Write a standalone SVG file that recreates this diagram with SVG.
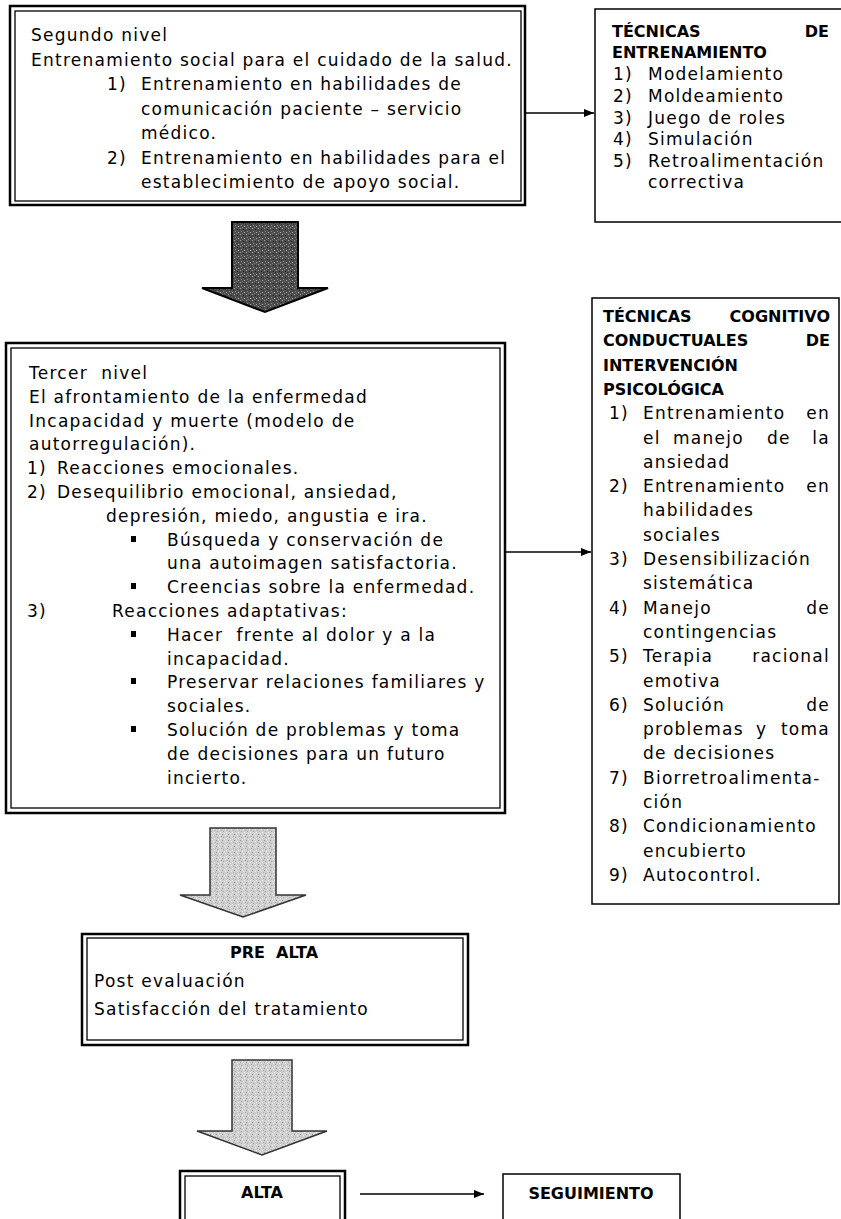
<svg xmlns="http://www.w3.org/2000/svg" width="841" height="1219" viewBox="0 0 841 1219">
  <style>
    .t { font-family: "DejaVu Sans", "Liberation Sans", sans-serif; font-size: 17px; letter-spacing: 1.25px; fill: #000; }
    .h { font-family: "DejaVu Sans", "Liberation Sans", sans-serif; font-size: 16px; font-weight: bold; fill: #000; }
    .c { text-anchor: middle; }
    .e { text-anchor: end; }
    .outer { fill: #fff; stroke: #000; stroke-width: 2.5; }
    .inner { fill: none; stroke: #000; stroke-width: 1.3; }
    .single { fill: #fff; stroke: #000; stroke-width: 1.5; }
    .link { stroke: #000; stroke-width: 1.5; fill: none; marker-end: url(#head); }
    .dark { fill: url(#grainDark); stroke: #000; stroke-width: 2; stroke-linejoin: miter; }
    .light { fill: url(#grainLight); stroke: #333; stroke-width: 1.5; stroke-linejoin: miter; }
  </style>
  <defs>
    <marker id="head" markerWidth="10" markerHeight="8" refX="10" refY="4" orient="auto" markerUnits="userSpaceOnUse">
      <path d="M0,0 L10,4 L0,8 Z" fill="#000"/>
    </marker>
    <pattern id="grainDark" width="6" height="6" patternUnits="userSpaceOnUse">
      <rect width="6" height="6" fill="#4d4d4d"/>
      <rect x="0" y="0" width="1" height="1" fill="#9a9a9a"/>
      <rect x="3" y="1" width="1" height="1" fill="#222"/>
      <rect x="1" y="3" width="1" height="1" fill="#888"/>
      <rect x="4" y="4" width="1" height="1" fill="#aaa"/>
      <rect x="5" y="2" width="1" height="1" fill="#333"/>
      <rect x="2" y="5" width="1" height="1" fill="#777"/>
    </pattern>
    <pattern id="grainLight" width="6" height="6" patternUnits="userSpaceOnUse">
      <rect width="6" height="6" fill="#cfcfcf"/>
      <rect x="0" y="0" width="1" height="1" fill="#999"/>
      <rect x="3" y="1" width="1" height="1" fill="#eee"/>
      <rect x="1" y="3" width="1" height="1" fill="#a8a8a8"/>
      <rect x="4" y="4" width="1" height="1" fill="#f2f2f2"/>
      <rect x="5" y="2" width="1" height="1" fill="#b0b0b0"/>
      <rect x="2" y="5" width="1" height="1" fill="#e6e6e6"/>
    </pattern>
  </defs>

  <rect width="841" height="1219" fill="#fff"/>

  <!-- Second level: social training -->
  <g id="segundo-nivel">
    <rect class="outer" x="10" y="6" width="515" height="199"/>
    <rect class="inner" x="15" y="11" width="506" height="190"/>
    <text class="t" x="31" y="41">Segundo nivel</text>
    <text class="t" x="31" y="65.5">Entrenamiento social para el cuidado de la salud.</text>
    <text class="t" x="107" y="90">1)</text>
    <text class="t" x="141" y="90">Entrenamiento en habilidades de</text>
    <text class="t" x="141" y="114.5">comunicación paciente – servicio</text>
    <text class="t" x="141" y="139">médico.</text>
    <text class="t" x="107" y="163.5">2)</text>
    <text class="t" x="141" y="163.5">Entrenamiento en habilidades para el</text>
    <text class="t" x="141" y="188">establecimiento de apoyo social.</text>
  </g>

  <!-- Training techniques -->
  <g id="tecnicas-entrenamiento">
    <rect class="single" x="595" y="9" width="260" height="213"/>
    <text class="h" x="612" y="37">TÉCNICAS</text>
    <text class="h e" x="829" y="37">DE</text>
    <text class="h" x="612" y="58">ENTRENAMIENTO</text>
    <text class="t" x="613" y="80">1)</text><text class="t" x="648" y="80">Modelamiento</text>
    <text class="t" x="613" y="102">2)</text><text class="t" x="648" y="102">Moldeamiento</text>
    <text class="t" x="613" y="124">3)</text><text class="t" x="648" y="124">Juego de roles</text>
    <text class="t" x="613" y="145">4)</text><text class="t" x="648" y="145">Simulación</text>
    <text class="t" x="613" y="167">5)</text><text class="t" x="648" y="167">Retroalimentación</text>
    <text class="t" x="648" y="188">correctiva</text>
  </g>

  <!-- Block arrow: second to third level -->
  <g id="flecha-1">
    <path class="dark" d="M232,222 H298 V288 H328 L265,312 L202,288 H232 Z"/>
  </g>

  <!-- Third level: coping with illness -->
  <g id="tercer-nivel">
    <rect class="outer" x="6" y="343" width="499" height="470"/>
    <rect class="inner" x="11" y="348" width="489" height="460"/>
    <text class="t" x="29" y="379" style="white-space:pre">Tercer  nivel</text>
    <text class="t" x="29" y="403">El afrontamiento de la enfermedad</text>
    <text class="t" x="29" y="427">Incapacidad y muerte (modelo de</text>
    <text class="t" x="29" y="450">autorregulación).</text>
    <text class="t" x="27" y="474">1)</text><text class="t" x="57" y="474">Reacciones emocionales.</text>
    <text class="t" x="27" y="498">2)</text><text class="t" x="57" y="498">Desequilibrio emocional, ansiedad,</text>
    <text class="t" x="106" y="522">depresión, miedo, angustia e ira.</text>
    <rect x="131" y="536" width="5" height="6"/>
    <text class="t" x="167" y="546">Búsqueda y conservación de</text>
    <text class="t" x="167" y="569">una autoimagen satisfactoria.</text>
    <rect x="131" y="583" width="5" height="6"/>
    <text class="t" x="167" y="593">Creencias sobre la enfermedad.</text>
    <text class="t" x="27" y="617">3)</text><text class="t" x="112" y="617">Reacciones adaptativas:</text>
    <rect x="131" y="631" width="5" height="6"/>
    <text class="t" x="167" y="641" style="white-space:pre">Hacer  frente al dolor y a la</text>
    <text class="t" x="167" y="665">incapacidad.</text>
    <rect x="131" y="678" width="5" height="6"/>
    <text class="t" x="167" y="688">Preservar relaciones familiares y</text>
    <text class="t" x="167" y="712">sociales.</text>
    <rect x="131" y="726" width="5" height="6"/>
    <text class="t" x="167" y="736">Solución de problemas y toma</text>
    <text class="t" x="167" y="760">de decisiones para un futuro</text>
    <text class="t" x="167" y="784">incierto.</text>
  </g>

  <!-- Cognitive-behavioural techniques -->
  <g id="tecnicas-cognitivo-conductuales">
    <rect class="single" x="592" y="298" width="247" height="606"/>
    <text class="h" x="603" y="322">TÉCNICAS</text><text class="h e" x="830" y="322">COGNITIVO</text>
    <text class="h" x="603" y="346.3">CONDUCTUALES</text><text class="h e" x="830" y="346.3">DE</text>
    <text class="h" x="603" y="370.6">INTERVENCIÓN</text>
    <text class="h" x="603" y="394.9">PSICOLÓGICA</text>
    <text class="t" x="609" y="419.2">1)</text><text class="t" x="643" y="419.2">Entrenamiento</text><text class="t e" x="830" y="419.2">en</text>
    <text class="t" x="643" y="443.5">el</text><text class="t" x="673" y="443.5">manejo</text><text class="t" x="767" y="443.5">de</text><text class="t e" x="830" y="443.5">la</text>
    <text class="t" x="643" y="467.8">ansiedad</text>
    <text class="t" x="609" y="492.1">2)</text><text class="t" x="643" y="492.1">Entrenamiento</text><text class="t e" x="830" y="492.1">en</text>
    <text class="t" x="643" y="516.4">habilidades</text>
    <text class="t" x="643" y="540.7">sociales</text>
    <text class="t" x="609" y="565">3)</text><text class="t" x="643" y="565">Desensibilización</text>
    <text class="t" x="643" y="589.3">sistemática</text>
    <text class="t" x="609" y="613.6">4)</text><text class="t" x="643" y="613.6">Manejo</text><text class="t e" x="830" y="613.6">de</text>
    <text class="t" x="643" y="637.9">contingencias</text>
    <text class="t" x="609" y="662.2">5)</text><text class="t" x="643" y="662.2">Terapia</text><text class="t e" x="830" y="662.2">racional</text>
    <text class="t" x="643" y="686.5">emotiva</text>
    <text class="t" x="609" y="710.8">6)</text><text class="t" x="643" y="710.8">Solución</text><text class="t e" x="830" y="710.8">de</text>
    <text class="t" x="643" y="735.1">problemas</text><text class="t" x="756" y="735.1">y</text><text class="t e" x="830" y="735.1">toma</text>
    <text class="t" x="643" y="759.4">de decisiones</text>
    <text class="t" x="609" y="783.7">7)</text><text class="t" x="643" y="783.7">Biorretroalimenta-</text>
    <text class="t" x="643" y="808">ción</text>
    <text class="t" x="609" y="832.3">8)</text><text class="t" x="643" y="832.3">Condicionamiento</text>
    <text class="t" x="643" y="856.6">encubierto</text>
    <text class="t" x="609" y="880.9">9)</text><text class="t" x="643" y="880.9">Autocontrol.</text>
  </g>

  <!-- Block arrow: third level to pre-discharge -->
  <g id="flecha-2">
    <path class="light" d="M210,828 H276 V895 H306 L243,917 L180,895 H210 Z"/>
  </g>

  <!-- Pre-discharge -->
  <g id="pre-alta">
    <rect class="outer" x="82" y="934" width="386" height="111"/>
    <rect class="inner" x="87" y="938" width="376" height="102"/>
    <text class="h c" x="274" y="958" style="white-space:pre">PRE  ALTA</text>
    <text class="t" x="94" y="987">Post evaluación</text>
    <text class="t" x="94" y="1015">Satisfacción del tratamiento</text>
  </g>

  <!-- Block arrow: pre-discharge to discharge -->
  <g id="flecha-3">
    <path class="light" d="M232,1060 H292 V1131 H327 L262,1155 L197,1131 H232 Z"/>
  </g>

  <!-- Discharge -->
  <g id="alta">
    <rect class="outer" x="180" y="1171" width="165" height="60"/>
    <rect class="inner" x="185" y="1176" width="155" height="60"/>
    <text class="h c" x="262" y="1198">ALTA</text>
  </g>

  <!-- Follow-up -->
  <g id="seguimiento">
    <rect class="single" x="503" y="1174" width="177" height="60"/>
    <text class="h c" x="591" y="1199">SEGUIMIENTO</text>
  </g>

  <!-- Connectors -->
  <g id="conectores">
    <line class="link" x1="526" y1="113" x2="594" y2="113"/>
    <line class="link" x1="506" y1="552" x2="591" y2="552"/>
    <line class="link" x1="360" y1="1194" x2="484" y2="1194"/>
  </g>
</svg>
